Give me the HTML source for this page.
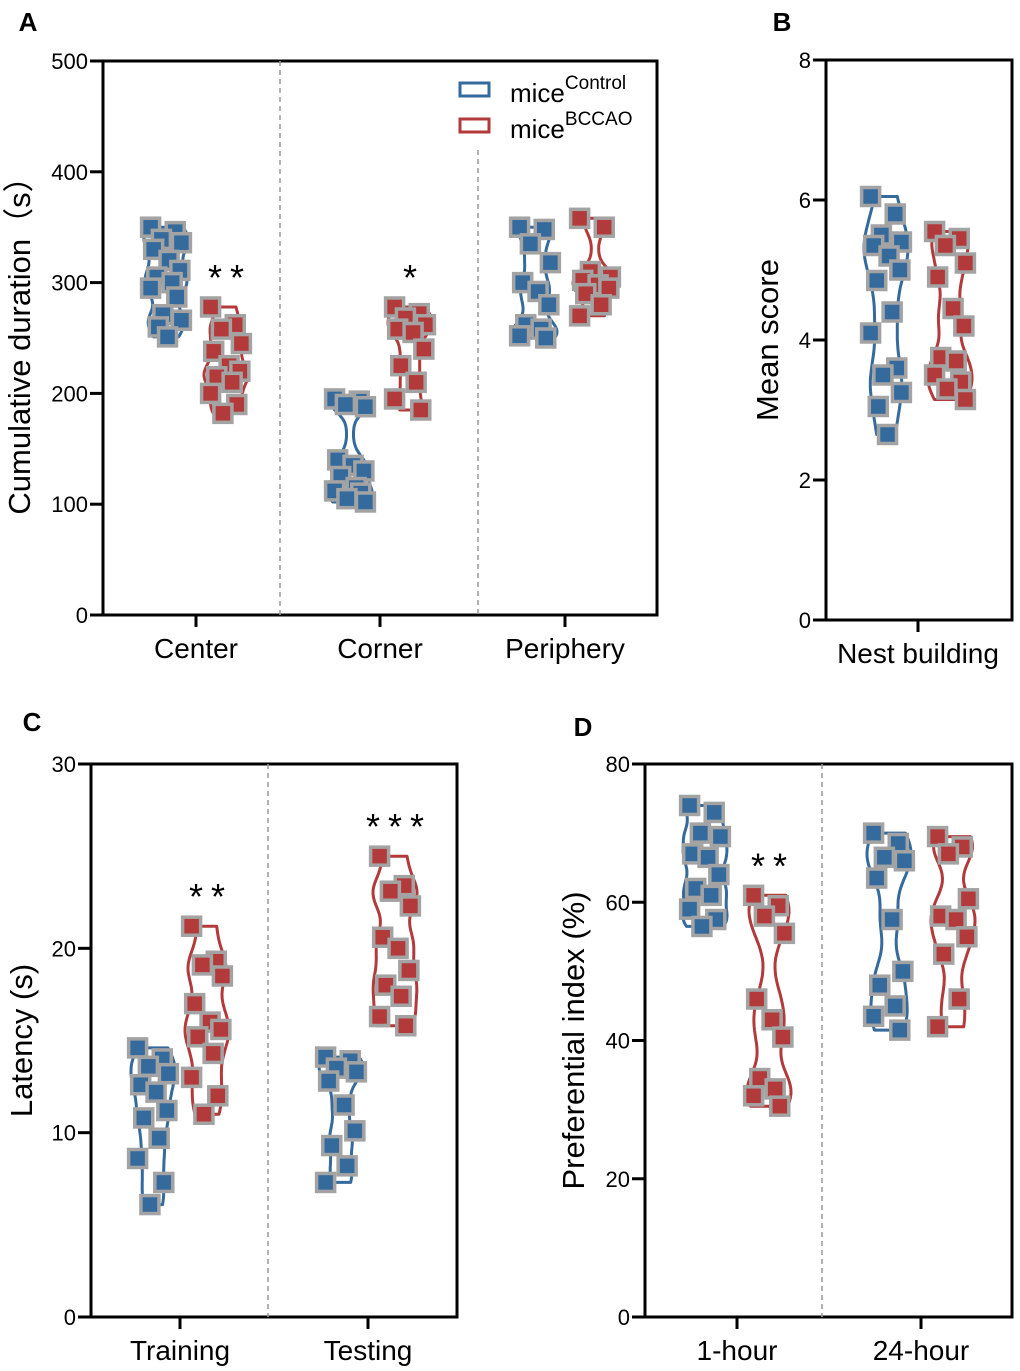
<!DOCTYPE html>
<html><head><meta charset="utf-8"><style>
body{margin:0;background:#fff}
svg{display:block;font-family:"Liberation Sans",Arial,sans-serif}
</style></head><body>
<svg id="chart" width="1020" height="1371" viewBox="0 0 1020 1371" xmlns="http://www.w3.org/2000/svg"></svg>
<script>
// ---- Data ----
const aCategories=["Center","Corner","Periphery"];
const aControl=[[350,346,339,336,330,320,311,305,300,295,287,271,266,260,251],
                [195,193,190,188,140,135,130,125,115,112,110,105,102],
                [350,348,335,318,300,292,280,262,258,252,250]];
const aBCCAO=[[278,262,258,245,238,225,220,215,210,200,190,182],
              [278,272,268,262,258,255,240,225,210,195,185],
              [358,350,310,305,302,298,295,290,280,270]];
const aTicks=[0,100,200,300,400,500];
const aStars=["**","*",""];
const bCategories=["Nest building"];
const bControl=[[6.05,5.8,5.5,5.4,5.35,5.2,5.0,4.85,4.4,4.1,3.6,3.5,3.25,3.05,2.65]];
const bBCCAO=[[5.55,5.45,5.35,5.1,4.9,4.45,4.2,3.75,3.7,3.5,3.4,3.3,3.15]];
const bTicks=[0,2,4,6,8];
const cCategories=["Training","Testing"];
const cControl=[[14.6,14.0,13.6,13.2,12.6,12.2,11.2,10.8,9.7,8.6,7.3,6.1],
                [14.1,13.9,13.5,13.3,12.8,11.5,10.1,9.3,8.2,7.3]];
const cBCCAO=[[21.2,19.3,19.1,18.5,17.0,16.0,15.6,15.2,14.3,13.0,12.0,11.0],
              [25.0,23.4,23.1,22.3,20.6,20.0,18.8,18.0,17.4,16.3,15.8]];
const cTicks=[0,10,20,30];
const cStars=["**","***"];
const dCategories=["1-hour","24-hour"];
const dControl=[[74,73,70,69.5,67,66.5,64,62,61,59,57.5,56.5],
                [70,68.5,66.5,66,63.5,57.5,50,48,45,43.5,41.5]];
const dBCCAO=[[61,59.5,58,55.5,46,43,40.5,34.5,33,32,30.5],
              [69.5,68,67,60.5,58,57.5,55,52.5,46,42]];
const dTicks=[0,20,40,60,80];
const dStars=["**",""];

const NS="http://www.w3.org/2000/svg";
const svg=document.getElementById('chart');
const BLUE="#356a9c",RED="#b33a3a",GRAY="#a3a3a3";
function mk(tag,attrs,parent){const e=document.createElementNS(NS,tag);for(const k in attrs)e.setAttribute(k,attrs[k]);(parent||svg).appendChild(e);return e;}
function txt(s,x,y,size,anchor,parent,extra){const t=mk('text',Object.assign({x:x,y:y,'font-size':size,'text-anchor':anchor||'middle',fill:'#000'},extra||{}),parent);t.textContent=s;return t;}

function violin(g,vals,cx,ys,color,maxW){
  const mn=Math.min(...vals),mx=Math.max(...vals),rng=(mx-mn)||1,bw=rng*0.09;
  const N=50,pts=[];let dmax=0;
  for(let i=0;i<=N;i++){const v=mn+rng*i/N;let d=0;for(const x of vals){const z=(v-x)/bw;d+=Math.exp(-0.5*z*z);}pts.push([v,d]);if(d>dmax)dmax=d;}
  let p="";
  pts.forEach((q,i)=>{p+=(i?"L":"M")+(cx+(0.15+0.85*q[1]/dmax)*maxW).toFixed(1)+","+ys(q[0]).toFixed(1);});
  for(let i=N;i>=0;i--){const q=pts[i];p+="L"+(cx-(0.15+0.85*q[1]/dmax)*maxW).toFixed(1)+","+ys(q[0]).toFixed(1);}
  p+="Z";
  const v=mk('path',{d:p,fill:'none',stroke:color,'stroke-width':3,'stroke-linejoin':'round'},g);
  
  
}
function points(g,vals,cx,ys,color,spread){
  vals.forEach((v,i)=>{
    const off=[-1,0.6,-0.3,1,-0.8,0.2,0.9,-0.6,0.4,-1,0.7,-0.2,1,-0.5,0.1][i%15]*spread;
    const r=mk('rect',{x:cx+off-9,y:ys(v)-9,width:18,height:18,fill:color,stroke:GRAY,'stroke-width':3.5},g);
    
    
  });
}
function panel(o){
  const g=mk('g',{});
  
  
  const ys=v=>o.y0+(o.y1-o.y0)*(v-o.min)/(o.max-o.min);
  mk('path',{d:`M${o.x0-13},${o.y1}H${o.x1}V${o.y0}H${o.x0-13}M${o.x0},${o.y1}V${o.y0}`,fill:'none',stroke:'#000','stroke-width':3},g);
  (o.seps||[]).forEach(s=>{const l=mk('line',{x1:s[0],x2:s[0],y1:s[1]||o.y1,y2:o.y0,stroke:'#999','stroke-width':1.5,'stroke-dasharray':'5,4'},g);});
  o.ticks.forEach(t=>{const y=ys(t);mk('line',{x1:o.x0-13,x2:o.x0,y1:y,y2:y,stroke:'#000','stroke-width':3},g);
    const l=txt(String(t),o.x0-15,y+8,22,'end',g);});
  o.cats.forEach((c,i)=>{const cx=o.cx[i];
    mk('line',{x1:cx,x2:cx,y1:o.y0,y2:o.y0+12,stroke:'#000','stroke-width':3},g);
    const l=txt(c,cx,o.y0+43,28,'middle',g);
    const bx=cx-o.off,rx=cx+o.off;
    violin(g,o.ctl[i],bx,ys,BLUE,o.vw);violin(g,o.bcc[i],rx,ys,RED,o.vw);
    points(g,o.ctl[i],bx,ys,BLUE,o.vw*0.7);points(g,o.bcc[i],rx,ys,RED,o.vw*0.7);
    if(o.stars&&o.stars[i]){const s=txt(o.stars[i],rx+4,ys(Math.max(...o.bcc[i]))-17,36,'middle',g,{'letter-spacing':'8'});}
  });
  const yl=txt(o.ylabel,0,0,31,'middle',g,{transform:`translate(${o.ylx},${(o.y0+o.y1)/2}) rotate(-90)`});
  
  const pl=txt(o.letter,o.lx,o.ly,26,'middle',g,{'font-weight':'bold'});
  
  return g;
}
panel({name:'panel-a',x0:103,x1:657,y0:615,y1:61,min:0,max:500,ticks:aTicks,cats:aCategories,cx:[196,380,565],off:30,vw:22,
  ctl:aControl,bcc:aBCCAO,stars:aStars,seps:[[280],[478,150]],ylabel:'Cumulative duration（s）',ylx:30,letter:'A',lx:28,ly:31});
panel({name:'panel-b',x0:826,x1:1012,y0:620,y1:60,min:0,max:8,ticks:bTicks,cats:bCategories,cx:[918],off:32,vw:22,
  ctl:bControl,bcc:bBCCAO,seps:[],ylabel:'Mean score',ylx:778,letter:'B',lx:782,ly:31});
panel({name:'panel-c',x0:91,x1:457,y0:1317,y1:764,min:0,max:30,ticks:cTicks,cats:cCategories,cx:[180,368],off:27,vw:22,
  ctl:cControl,bcc:cBCCAO,stars:cStars,seps:[[268]],ylabel:'Latency (s)',ylx:32,letter:'C',lx:32,ly:731});
panel({name:'panel-d',x0:645,x1:1012,y0:1317,y1:764,min:0,max:80,ticks:dTicks,cats:dCategories,cx:[737,921],off:32,vw:22,
  ctl:dControl,bcc:dBCCAO,stars:dStars,seps:[[822]],ylabel:'Preferential index (%)',ylx:584,letter:'D',lx:583,ly:736});
const lg=mk('g',{});


[[BLUE,'Control',89],[RED,'BCCAO',125]].forEach(e=>{
  const r=mk('rect',{x:460,y:e[2]-6,width:29,height:13,fill:'none',stroke:e[0],'stroke-width':3},lg);
  
  const t=mk('text',{x:510,y:e[2]+13,'font-size':26,fill:'#000'},lg);
  
  t.textContent='mice';
  const s=mk('tspan',{'font-size':19,dy:-13},t);s.textContent=e[1];
});
</script>
</body></html>
